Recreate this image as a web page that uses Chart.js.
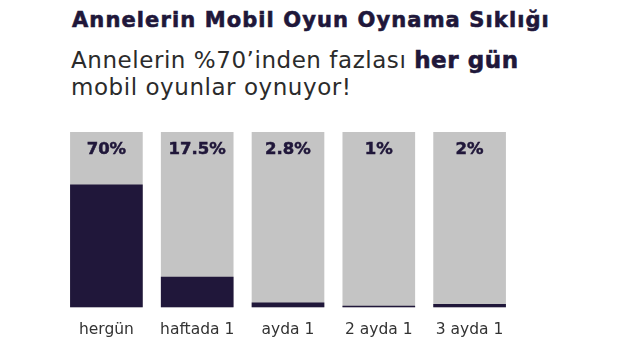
<!DOCTYPE html>
<html lang="tr">
<head>
<meta charset="utf-8">
<title>Annelerin Mobil Oyun Oynama Sıklığı</title>
<script src="https://cdn.jsdelivr.net/npm/chart.js@4/dist/chart.umd.min.js"></script>
<style>
  html, body { margin: 0; padding: 0; background: #fff; }
  body { width: 620px; height: 350px; position: relative; overflow: hidden; font-family: "DejaVu Sans", sans-serif; }
  h1 { position: absolute; left: 72px; top: 10px; margin: 0; font-size: 21px; line-height: 20px; font-weight: bold; color: #20173a; letter-spacing: 1.1px; -webkit-text-stroke: 0.6px #20173a; white-space: nowrap; }
  .sub { position: absolute; left: 71px; top: 46.5px; margin: 0; font-size: 23px; line-height: 27px; color: #2b2b2b; letter-spacing: 0.55px; white-space: nowrap; }
  .sub b { color: #20173a; font-weight: bold; -webkit-text-stroke: 0.6px #20173a; }
  #wrap { position: absolute; left: 0; top: 115px; width: 620px; height: 235px; }
</style>
</head>
<body>
<h1>Annelerin Mobil Oyun Oynama Sıklığı</h1>
<p class="sub">Annelerin %70’inden fazlası <b>her gün</b><br>mobil oyunlar oynuyor!</p>
<div id="wrap"><canvas id="siklikChart"></canvas></div>
<script>
// Oynama sıklığı kategorileri ve yüzdeleri
const kategoriler = ['hergün', 'haftada 1', 'ayda 1', '2 ayda 1', '3 ayda 1'];
const yuzdeler = [70, 17.5, 2.8, 1, 2];
const toplam = [100, 100, 100, 100, 100];

const koyu = '#20173a';
const gri = '#c4c4c4';

// Gri sütunun üstüne yüzde etiketi yaz
const yuzdeEtiketi = {
  id: 'yuzdeEtiketi',
  afterDatasetsDraw(chart) {
    const ctx = chart.ctx;
    const meta = chart.getDatasetMeta(1);
    ctx.save();
    ctx.font = 'bold 16.5px "DejaVu Sans", sans-serif';
    ctx.fillStyle = koyu;
    ctx.strokeStyle = koyu;
    ctx.lineWidth = 0.5;
    ctx.textAlign = 'center';
    ctx.textBaseline = 'middle';
    meta.data.forEach((bar, i) => {
      ctx.fillText(yuzdeler[i] + '%', bar.x, bar.y + 18);
      ctx.strokeText(yuzdeler[i] + '%', bar.x, bar.y + 18);
    });
    ctx.restore();
  }
};

const ctx = document.getElementById('siklikChart').getContext('2d');
new Chart(ctx, {
  type: 'bar',
  data: {
    labels: kategoriler,
    datasets: [
      {
        data: yuzdeler,
        backgroundColor: koyu,
        grouped: false,
        order: 0
      },
      {
        data: toplam,
        backgroundColor: gri,
        grouped: false,
        order: 1
      }
    ]
  },
  options: {
    responsive: true,
    maintainAspectRatio: false,
    animation: false,
    layout: { padding: { left: 61, right: 105, top: 17, bottom: 6 } },
    categoryPercentage: 0.8,
    barPercentage: 1,
    scales: {
      x: {
        grid: { display: false },
        border: { display: false },
        ticks: {
          color: '#333',
          padding: 5,
          font: { family: '"DejaVu Sans", sans-serif', size: 15.5 }
        }
      },
      y: {
        display: false,
        min: 0,
        max: 100
      }
    },
    plugins: {
      legend: { display: false },
      tooltip: { enabled: false }
    }
  },
  plugins: [yuzdeEtiketi]
});
</script>
</body>
</html>
